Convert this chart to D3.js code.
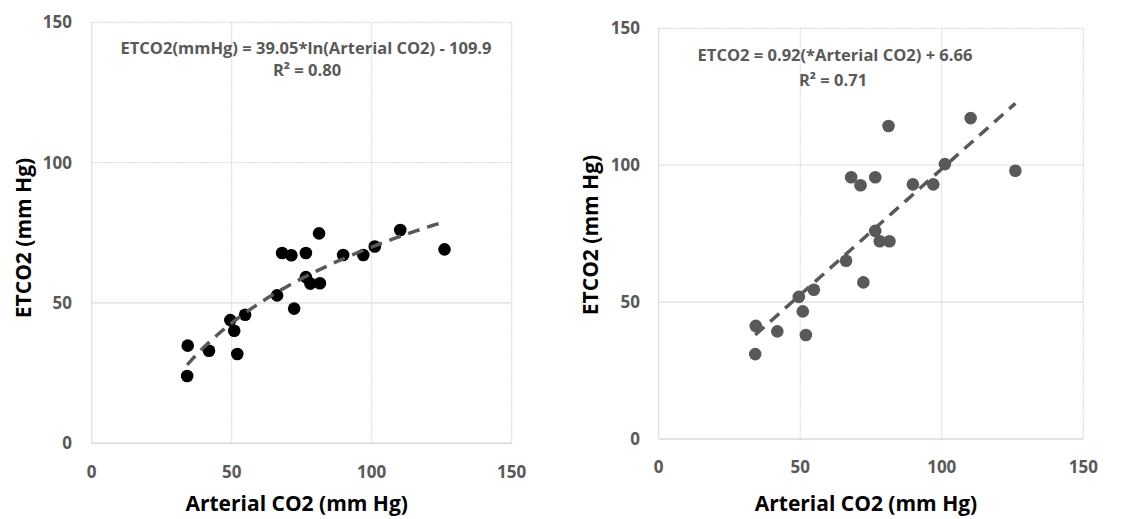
<!DOCTYPE html>
<html>
<head>
<meta charset="utf-8">
<script src="https://cdn.jsdelivr.net/npm/d3@7"></script>
<style>
  body { margin: 0; background: #fff; }
  text { font-family: "Open Sans", sans-serif; }
</style>
</head>
<body>
<script>
// Arterial CO2 values (same for both panels)
let arterialCO2 = [34.3, 34.1, 41.9, 49.5, 50.9, 52.0, 54.8, 66.2, 68.0, 71.3, 72.3,
  76.5, 76.5, 78.1, 81.5, 81.2, 89.8, 97.0, 101.1, 110.2, 126.0]

// ETCO2, left panel
let etco2Left = [34.8, 24.0, 33.0, 43.9, 40.1, 31.8, 45.8, 52.7, 67.8, 67.0, 48.0,
  67.8, 59.2, 56.9, 57.0, 74.8, 67.1, 67.1, 70.1, 76.0, 69.1]

// ETCO2, right panel
let etco2Right = [41.3, 31.0, 39.3, 51.9, 46.6, 38.0, 54.5, 65.1, 95.6, 92.7, 57.2,
  95.6, 76.0, 72.2, 72.2, 114.3, 93.0, 93.0, 100.4, 117.2, 98.0]

let ticks = [0, 50, 100, 150]

// trendline coefficients as printed on the chart
let logFit = {a: 39.05, b: -109.9}
let linFit = {m: 0.92, c: 6.66}
let fitRange = [34.1, 126.0]

let labelsLeft = ['ETCO2(mmHg) = 39.05*ln(Arterial CO2) - 109.9', 'R² = 0.80']
let labelsRight = ['ETCO2 = 0.92(*Arterial CO2) + 6.66', 'R² = 0.71']

let W = 1145, H = 519
let grey = '#595959'

let svg = d3.select('body').append('svg')
  .attr('width', W)
  .attr('height', H)

function drawPanel (opt) {
  let x = d3.scaleLinear().domain([0, 150]).range([opt.left, opt.right])
  let y = d3.scaleLinear().domain([0, 150]).range([opt.bottom, opt.top])
  let g = svg.append('g')

  // gridlines
  g.selectAll('.hgrid').data(ticks.slice(1)).enter().append('line')
    .attr('x1', opt.left).attr('x2', opt.right)
    .attr('y1', d => y(d)).attr('y2', d => y(d))
    .style('stroke', '#dcdcdc').style('stroke-width', 1.2)
    .style('stroke-dasharray', d => d === 50 ? null : '2,1')
  g.selectAll('.vgrid').data(ticks.slice(1)).enter().append('line')
    .attr('x1', d => x(d)).attr('x2', d => x(d))
    .attr('y1', opt.top).attr('y2', opt.bottom)
    .style('stroke', '#d4d4dc').style('stroke-width', 1)
    .style('stroke-dasharray', '2,1')
  // axis lines
  g.append('line')
    .attr('x1', opt.left).attr('x2', opt.left)
    .attr('y1', opt.top).attr('y2', opt.bottom)
    .style('stroke', '#dcdcdc').style('stroke-width', 1.2)
  g.append('line')
    .attr('x1', opt.left).attr('x2', opt.right)
    .attr('y1', y(0)).attr('y2', y(0))
    .style('stroke', '#d9d9d9').style('stroke-width', 1.5)

  // tick labels
  g.selectAll('.ytick').data(ticks).enter().append('text')
    .attr('x', opt.yLabelX)
    .attr('y', d => y(d))
    .attr('dy', '0.36em')
    .attr('text-anchor', 'end')
    .style('font-size', '17px').style('font-weight', 700).style('fill', grey)
    .text(d => d)
  g.selectAll('.xtick').data(ticks).enter().append('text')
    .attr('x', d => x(d))
    .attr('y', opt.xLabelY)
    .attr('dy', '0.36em')
    .attr('text-anchor', 'middle')
    .style('font-size', '17px').style('font-weight', 700).style('fill', grey)
    .text(d => d)

  // axis titles
  g.append('text')
    .attr('x', (opt.left + opt.right) / 2 - 5)
    .attr('y', 511)
    .attr('text-anchor', 'middle')
    .style('font-size', '21px').style('font-weight', 700).style('fill', '#000')
    .text('Arterial CO2 (mm Hg)')
  g.append('text')
    .attr('transform', 'translate(' + opt.yTitleX + ',' + opt.yTitleY + ') rotate(-90)')
    .attr('dy', '0.36em')
    .attr('text-anchor', 'middle')
    .style('font-size', '21px').style('font-weight', 700).style('fill', '#000')
    .text('ETCO2 (mm Hg)')

  // points
  g.selectAll('.pt').data(arterialCO2).enter().append('circle')
    .attr('cx', d => x(d))
    .attr('cy', (d, i) => y(opt.values[i]))
    .attr('r', 6.3)
    .style('fill', opt.dotColor)

  // trendline
  let fx = d3.range(fitRange[0], fitRange[1] + 0.01, (fitRange[1] - fitRange[0]) / 60)
  let line = d3.line().x(d => x(d)).y(d => y(opt.fit(d)))
  g.append('path')
    .attr('d', line(fx))
    .style('fill', 'none')
    .style('stroke', grey)
    .style('stroke-width', 3.5)
    .style('stroke-dasharray', '12,8')

  // equation
  g.selectAll('.eq').data(opt.labels).enter().append('text')
    .attr('x', (d, i) => opt.eqX[i])
    .attr('y', (d, i) => opt.eqY[i])
    .attr('text-anchor', 'middle')
    .style('font-size', '16.5px').style('font-weight', 700).style('fill', grey)
    .text(d => d)
}

drawPanel({
  left: 91.7, right: 511.7, top: 22.3, bottom: 443.3,
  yLabelX: 72, xLabelY: 472, yTitleX: 23, yTitleY: 238,
  values: etco2Left, dotColor: '#000',
  fit: v => logFit.a * Math.log(v) + logFit.b,
  labels: labelsLeft, eqX: [306, 307], eqY: [54, 76]
})

drawPanel({
  left: 658.7, right: 1083.3, top: 28.3, bottom: 439,
  yLabelX: 640, xLabelY: 467, yTitleX: 590, yTitleY: 235,
  values: etco2Right, dotColor: grey,
  fit: v => linFit.m * v + linFit.c,
  labels: labelsRight, eqX: [835, 833], eqY: [61, 86]
})
</script>
</body>
</html>
